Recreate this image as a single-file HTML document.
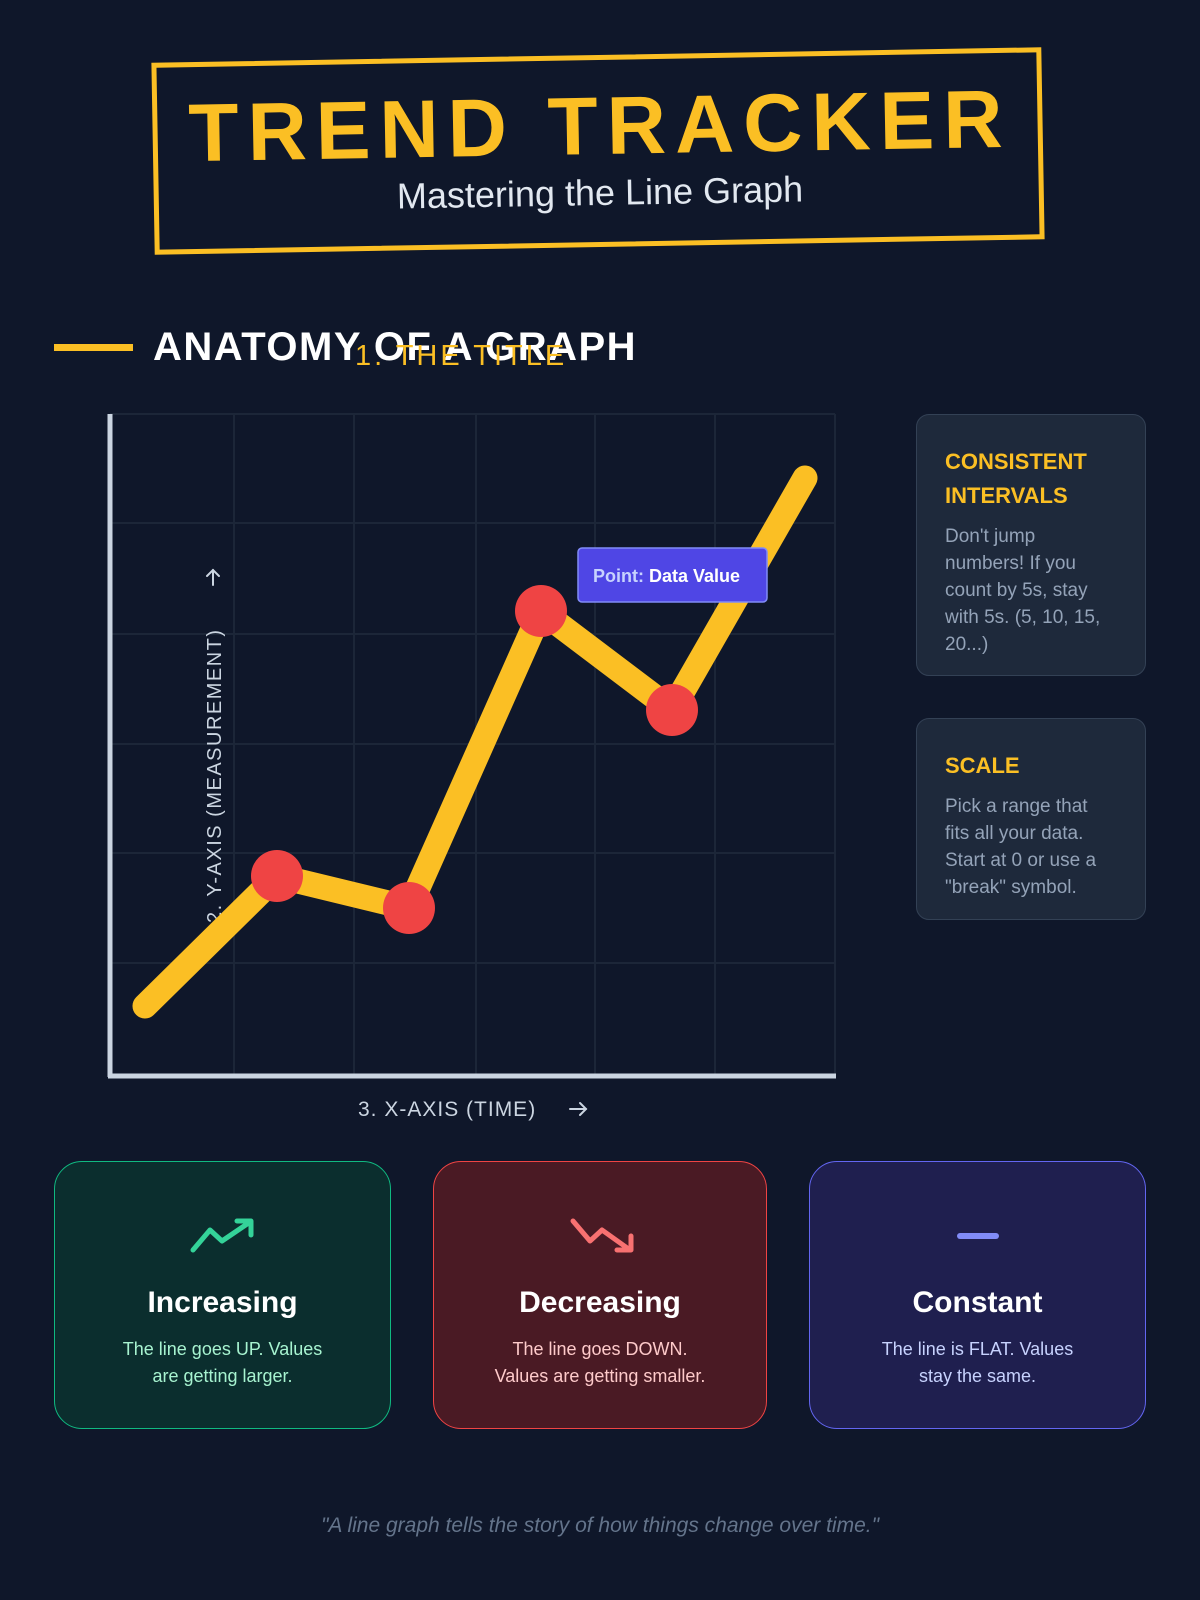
<!DOCTYPE html>
<html><head><meta charset="utf-8"><style>
body{margin:0;width:1200px;height:1600px;background:#0f172a;font-family:"Liberation Sans",sans-serif;position:relative;overflow:hidden}
.abs{position:absolute}
.box{left:153px;top:55px;width:890px;height:192px;border:5px solid #fbbf24;transform:rotate(-1deg);box-sizing:border-box}
.t1{left:0;width:1200px;top:80px;text-align:center;font-weight:bold;font-size:82px;letter-spacing:9px;color:#fbbf24;transform:rotate(-1deg)}
.t2{left:0;width:1200px;top:172px;text-align:center;font-size:36px;color:#e2e8f0;transform:rotate(-1deg)}
.card{background:#1e293b;border:1px solid #334155;border-radius:13px;box-sizing:border-box;padding:30px 30px 30px 28px}
.card h3{margin:0 0 10px;color:#fbbf24;font-size:22px;line-height:34px;font-weight:bold}
.card p{margin:0;color:#94a3b8;font-size:19px;line-height:27px}
.bc{top:1161px;height:268px;border-radius:28px;box-sizing:border-box;text-align:center}
.bc h4{margin:0;position:absolute;top:124px;width:100%;font-size:30px;color:#fff}
.bc p{margin:0;position:absolute;top:174px;width:100%;font-size:18px;line-height:27px}
</style></head><body>
<div class="abs box"></div>
<div class="abs t1">TREND TRACKER</div>
<div class="abs t2">Mastering the Line Graph</div>

<div class="abs" style="left:54px;top:344px;width:79px;height:7px;background:#fbbf24"></div>
<div class="abs" style="left:153px;top:325px;font-size:40px;font-weight:bold;color:#fff;letter-spacing:1.5px">ANATOMY OF A GRAPH</div>
<div class="abs" style="left:355px;top:340px;font-size:29px;color:#fbbf24;letter-spacing:3px">1. THE TITLE</div>

<div class="abs card" style="left:916px;top:414px;width:230px;height:262px"><h3>CONSISTENT INTERVALS</h3><p>Don't jump numbers! If you count by 5s, stay with 5s. (5, 10, 15, 20...)</p></div>
<div class="abs card" style="left:916px;top:718px;width:230px;height:202px"><h3>SCALE</h3><p>Pick a range that fits all your data. Start at 0 or use a "break" symbol.</p></div>

<div class="abs bc" style="left:54px;width:337px;background:#0b2e2e;border:1.5px solid #10b981"><h4>Increasing</h4><p style="color:#a7f3d0">The line goes UP. Values<br>are getting larger.</p></div>
<div class="abs bc" style="left:433px;width:334px;background:#4a1a24;border:1.5px solid #ef4444"><h4>Decreasing</h4><p style="color:#fecaca">The line goes DOWN.<br>Values are getting smaller.</p></div>
<div class="abs bc" style="left:809px;width:337px;background:#1f1f4f;border:1.5px solid #6366f1"><h4>Constant</h4><p style="color:#c7d2fe">The line is FLAT. Values<br>stay the same.</p></div>

<svg class="abs" style="left:0;top:0" width="1200" height="1600">
<g stroke="#1c2638" stroke-width="2">
<line x1="234" y1="414" x2="234" y2="1074"/><line x1="354" y1="414" x2="354" y2="1074"/><line x1="476" y1="414" x2="476" y2="1074"/><line x1="595" y1="414" x2="595" y2="1074"/><line x1="715" y1="414" x2="715" y2="1074"/><line x1="835" y1="414" x2="835" y2="1074"/>
<line x1="110" y1="414" x2="835" y2="414"/><line x1="110" y1="523" x2="835" y2="523"/><line x1="110" y1="634" x2="835" y2="634"/><line x1="110" y1="744" x2="835" y2="744"/><line x1="110" y1="853" x2="835" y2="853"/><line x1="110" y1="963" x2="835" y2="963"/>
</g>
<text transform="translate(221,923) rotate(-90)" font-family="Liberation Sans" font-size="20" fill="#cbd5e1" letter-spacing="1.5">2. Y-AXIS (MEASUREMENT)</text>
<g stroke="#cbd5e1" stroke-width="2" fill="none" stroke-linecap="round"><line x1="213" y1="585" x2="213" y2="570"/><polyline points="207,576 213,570 219,576"/></g>
<line x1="110" y1="414" x2="110" y2="1077" stroke="#cbd5e1" stroke-width="5"/>
<line x1="108" y1="1076" x2="836" y2="1076" stroke="#cbd5e1" stroke-width="5"/>
<polyline points="145,1006 277,876 409,908 541,611 672,710 805,478" fill="none" stroke="#fbbf24" stroke-width="25" stroke-linecap="round" stroke-linejoin="round"/>
<g fill="#ef4444"><circle cx="277" cy="876" r="26"/><circle cx="409" cy="908" r="26"/><circle cx="541" cy="611" r="26"/><circle cx="672" cy="710" r="26"/></g>
<rect x="578" y="548" width="189" height="54" rx="4" fill="#4f46e5" stroke="#818cf8" stroke-width="1.5"/>
<text x="593" y="582" font-family="Liberation Sans" font-size="18" font-weight="bold" fill="#c7d2fe">Point: <tspan fill="#fff">Data Value</tspan></text>
<text x="358" y="1116" font-family="Liberation Sans" font-size="21" fill="#cbd5e1" letter-spacing="1">3. X-AXIS (TIME)</text>
<g stroke="#cbd5e1" stroke-width="2" fill="none" stroke-linecap="round"><line x1="570" y1="1109" x2="586" y2="1109"/><polyline points="580,1103 586,1109 580,1115"/></g>
<polyline points="193,1250 210,1230 222,1241 250,1222" fill="none" stroke="#34d399" stroke-width="5" stroke-linecap="round" stroke-linejoin="round"/>
<polyline points="237,1221 251,1221 251,1235" fill="none" stroke="#34d399" stroke-width="5" stroke-linecap="round" stroke-linejoin="round"/>
<polyline points="573,1221 590,1241 602,1230 630,1250" fill="none" stroke="#f87171" stroke-width="5" stroke-linecap="round" stroke-linejoin="round"/>
<polyline points="617,1250 631,1250 631,1236" fill="none" stroke="#f87171" stroke-width="5" stroke-linecap="round" stroke-linejoin="round"/>
<line x1="960" y1="1236" x2="996" y2="1236" stroke="#818cf8" stroke-width="6" stroke-linecap="round"/>
</svg>

<div class="abs" style="left:0;width:1200px;top:1514px;text-align:center;font-style:italic;font-size:21px;color:#64748b">"A line graph tells the story of how things change over time."</div>
</body></html>
